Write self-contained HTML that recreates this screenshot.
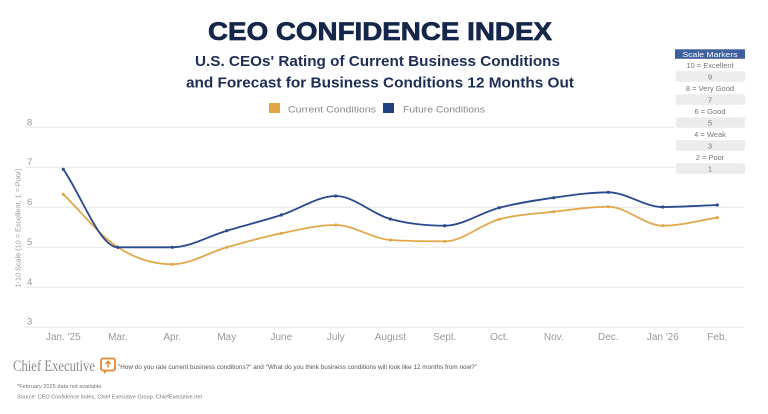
<!DOCTYPE html>
<html>
<head>
<meta charset="utf-8">
<style>
html,body{margin:0;padding:0;background:#fff;}
svg{display:block;}
text{font-family:"Liberation Sans",sans-serif;}
</style>
</head>
<body>
<svg width="768" height="414" viewBox="0 0 768 414" xmlns="http://www.w3.org/2000/svg">
<rect width="768" height="414" fill="#fff"/>

<!-- Titles -->
<text x="208" y="40" font-size="25" font-weight="bold" fill="#15264b" stroke="#15264b" stroke-width="0.7" textLength="344" lengthAdjust="spacingAndGlyphs">CEO CONFIDENCE INDEX</text>
<text x="195" y="66" font-size="15" font-weight="bold" fill="#1d2d55" textLength="365" lengthAdjust="spacingAndGlyphs">U.S. CEOs' Rating of Current Business Conditions</text>
<text x="186" y="87.3" font-size="15" font-weight="bold" fill="#1d2d55" textLength="388" lengthAdjust="spacingAndGlyphs">and Forecast for Business Conditions 12 Months Out</text>

<!-- Legend -->
<rect x="269" y="103" width="11" height="10" fill="#e0a444"/>
<text x="288" y="112.5" font-size="9.5" fill="#888" textLength="88" lengthAdjust="spacingAndGlyphs">Current Conditions</text>
<rect x="383" y="103" width="11" height="10" fill="#1f3f84"/>
<text x="403" y="112.5" font-size="9.5" fill="#888" textLength="82" lengthAdjust="spacingAndGlyphs">Future Conditions</text>

<!-- Grid -->
<g stroke="#e6e6e6" stroke-width="1">
<line x1="26" y1="127.3" x2="744" y2="127.3"/>
<line x1="26" y1="167.3" x2="744" y2="167.3"/>
<line x1="26" y1="207.3" x2="744" y2="207.3"/>
<line x1="26" y1="247.3" x2="744" y2="247.3"/>
<line x1="26" y1="287.3" x2="744" y2="287.3"/>
<line x1="26" y1="327.3" x2="744" y2="327.3"/>
</g>
<g font-size="9.5" fill="#999">
<text x="27" y="125.3">8</text>
<text x="27" y="165">7</text>
<text x="27" y="205">6</text>
<text x="27" y="245">5</text>
<text x="27" y="285">4</text>
<text x="27" y="324.5">3</text>
</g>
<text transform="translate(20.5,228) rotate(-90)" text-anchor="middle" font-size="7" fill="#999" textLength="119" lengthAdjust="spacingAndGlyphs">1-10 Scale (10 = Excellent, 1 = Poor)</text>

<!-- X labels -->
<g font-size="10" fill="#999" text-anchor="middle">
<text x="63.3" y="340">Jan. '25</text>
<text x="117.8" y="340">Mar.</text>
<text x="172.3" y="340">Apr.</text>
<text x="226.8" y="340">May</text>
<text x="281.3" y="340">June</text>
<text x="335.8" y="340">July</text>
<text x="390.3" y="340">August</text>
<text x="444.8" y="340">Sept.</text>
<text x="499.3" y="340">Oct.</text>
<text x="553.8" y="340">Nov.</text>
<text x="608.3" y="340">Dec.</text>
<text x="662.8" y="340">Jan '26</text>
<text x="717.3" y="340">Feb.</text>
</g>

<!-- Current (orange) -->
<path fill="none" stroke="#e2a84c" stroke-width="1.8" d="M63.3,194.3 C81.47,211.97 99.63,235.63 117.8,247.3 C135.97,258.97 154.13,264.3 172.3,264.3 C190.47,264.3 208.63,252.47 226.8,247.3 C244.97,242.13 263.13,237.02 281.3,233.3 C299.47,229.58 317.63,225 335.8,225 C353.97,225 372.13,238.7 390.3,240 C408.47,241.3 426.63,241.3 444.8,241.3 C462.97,241.3 481.13,224.23 499.3,219.3 C517.47,214.37 535.63,213.8 553.8,211.7 C571.97,209.6 590.13,206.7 608.3,206.7 C626.47,206.7 644.63,225.7 662.8,225.7 C680.97,225.7 699.13,220.37 717.3,217.7"/>
<g fill="#e2a84c">
<circle cx="63.3" cy="194.3" r="1.6"/><circle cx="117.8" cy="247.3" r="1.6"/><circle cx="172.3" cy="264.3" r="1.6"/><circle cx="226.8" cy="247.3" r="1.6"/><circle cx="281.3" cy="233.3" r="1.6"/><circle cx="335.8" cy="225" r="1.6"/><circle cx="390.3" cy="240" r="1.6"/><circle cx="444.8" cy="241.3" r="1.6"/><circle cx="499.3" cy="219.3" r="1.6"/><circle cx="553.8" cy="211.7" r="1.6"/><circle cx="608.3" cy="206.7" r="1.6"/><circle cx="662.8" cy="225.7" r="1.6"/><circle cx="717.3" cy="217.7" r="1.6"/>
</g>

<!-- Future (navy) -->
<path fill="none" stroke="#2a4a8c" stroke-width="1.8" d="M63.3,169.3 C81.47,195.3 99.63,247.3 117.8,247.3 C135.97,247.3 154.13,247.3 172.3,247.3 C190.47,247.3 208.63,236.08 226.8,230.7 C244.97,225.32 263.13,220.78 281.3,215 C299.47,209.22 317.63,196 335.8,196 C353.97,196 372.13,214.05 390.3,219 C408.47,223.95 426.63,225.7 444.8,225.7 C462.97,225.7 481.13,212.37 499.3,207.7 C517.47,203.03 535.63,200.27 553.8,197.7 C571.97,195.13 590.13,192.3 608.3,192.3 C626.47,192.3 644.63,207 662.8,207 C680.97,207 699.13,205.67 717.3,205"/>
<g fill="#2a4a8c">
<circle cx="63.3" cy="169.3" r="1.6"/><circle cx="117.8" cy="247.3" r="1.6"/><circle cx="172.3" cy="247.3" r="1.6"/><circle cx="226.8" cy="230.7" r="1.6"/><circle cx="281.3" cy="215" r="1.6"/><circle cx="335.8" cy="196" r="1.6"/><circle cx="390.3" cy="219" r="1.6"/><circle cx="444.8" cy="225.7" r="1.6"/><circle cx="499.3" cy="207.7" r="1.6"/><circle cx="553.8" cy="197.7" r="1.6"/><circle cx="608.3" cy="192.3" r="1.6"/><circle cx="662.8" cy="207" r="1.6"/><circle cx="717.3" cy="205" r="1.6"/>
</g>

<!-- Scale markers box -->
<rect x="675" y="59.3" width="70" height="115" fill="#fff"/>
<rect x="675" y="49.3" width="70" height="9.5" fill="#3f5f9d"/>
<text x="710" y="56.8" font-size="7.5" fill="#fff" text-anchor="middle" textLength="55" lengthAdjust="spacingAndGlyphs">Scale Markers</text>
<g fill="#ececec">
<rect x="676" y="71.3" width="69" height="10.5" rx="2"/>
<rect x="676" y="94.3" width="69" height="10.5" rx="2"/>
<rect x="676" y="117.3" width="69" height="10.5" rx="2"/>
<rect x="676" y="140.3" width="69" height="10.5" rx="2"/>
<rect x="676" y="163.3" width="69" height="10.5" rx="2"/>
</g>
<g font-size="7.5" fill="#777" text-anchor="middle">
<text x="710" y="67.8">10 = Excellent</text>
<text x="710" y="79.3">9</text>
<text x="710" y="90.8">8 = Very Good</text>
<text x="710" y="102.3">7</text>
<text x="710" y="113.8">6 = Good</text>
<text x="710" y="125.3">5</text>
<text x="710" y="136.8">4 = Weak</text>
<text x="710" y="148.3">3</text>
<text x="710" y="159.8">2 = Poor</text>
<text x="710" y="171.3">1</text>
</g>

<!-- Footer -->
<text x="13" y="371" style="font-family:'Liberation Serif',serif;" font-size="16" fill="#8c8c8c" textLength="82" lengthAdjust="spacingAndGlyphs">Chief Executive</text>
<g>
<rect x="101" y="358.5" width="14" height="12" rx="2" fill="none" stroke="#e8872b" stroke-width="1.8"/>
<path d="M104,370 L104,374 L108,370 Z" fill="#e8872b"/>
<path d="M108,367.5 L108,361.5 M105.5,364 L108,361.3 L110.5,364" stroke="#e8872b" stroke-width="1.4" fill="none"/>
</g>
<text x="118" y="369" font-size="6.3" fill="#555" textLength="359" lengthAdjust="spacingAndGlyphs">"How do you rate current business conditions?" and "What do you think business conditions will look like 12 months from now?"</text>
<text x="17" y="388" font-size="5.5" fill="#777" textLength="86" lengthAdjust="spacingAndGlyphs">*February 2025 data not available.</text>
<text x="17" y="398.5" font-size="5.5" fill="#777" textLength="185" lengthAdjust="spacingAndGlyphs">Source: CEO Confidence Index, Chief Executive Group, ChiefExecutive.net</text>
</svg>
</body>
</html>
